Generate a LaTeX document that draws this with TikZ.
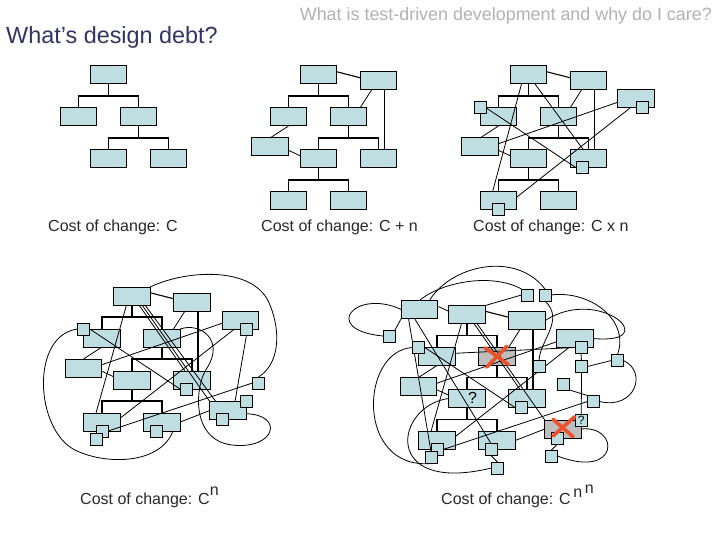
\documentclass[tikz,border=0pt]{standalone}
\usepackage{fontspec}
\setmainfont{Liberation Sans}
\usetikzlibrary{calc}
\definecolor{boxblue}{RGB}{190,222,226}
\definecolor{boxgrey}{RGB}{190,190,190}
\definecolor{titlenavy}{RGB}{51,51,102}
\definecolor{headgrey}{RGB}{178,178,178}
\definecolor{captext}{RGB}{40,40,40}
\definecolor{xred}{RGB}{236,80,45}
\pgfdeclarelayer{fg}
\pgfdeclarelayer{top}
\pgfsetlayers{main,fg,top}
\newcommand{\basenodes}[2]{%
 \node[bx] (#1T) at (0,0) {};
 \node[bx] (#1L2) at (-30,42) {};
 \node[#2] (#1R2) at (30,42) {};
 \node[bx] (#1L3) at (0,84) {};
 \node[bx] (#1R3) at (60,84) {};
}
\newcommand{\basetree}[1]{%
 \draw[trln] (#1T.south) -- ++(0,12);
 \draw[trln] (#1L2.north) -- ++(0,-12) -| (#1R2.north);
 \draw[trln] (#1R2.south) -- ++(0,12);
 \draw[trln] (#1L3.north) -- ++(0,-12) -| (#1R3.north);
}
\newcommand{\extnodes}[1]{%
 \node[bx] (#1R) at (60,6) {};
 \node[bx] (#1X) at (-48.5,72) {};
 \node[bx] (#1L4) at (-30,126) {};
 \node[bx] (#1R4) at (30,126) {};
}
\newcommand{\exttree}[1]{%
 \draw[trln] (#1L3.south) -- ++(0,12);
 \draw[trln] (#1L4.north) -- ++(0,-12) -| (#1R4.north);
 \draw[mdln] (#1T.10) -- (#1R.170);
 \draw[xln] ([xshift=-7pt]#1R.south) -- ([xshift=11.5pt]#1R2.north);
 \draw[trln] ([xshift=6pt]#1R.south) -- ([xshift=6pt]#1R3.north);
 \draw[xln] (#1L2.south) -- (#1X.north);
 \draw[xln] (#1X.-10) -- (#1L3.170);
}
\begin{document}
\begin{tikzpicture}[x=1pt,y=-1pt,
  bx/.style={draw=black,line width=1pt,fill=boxblue,minimum width=36.5pt,minimum height=18pt,inner sep=0pt,outer sep=0pt},
  gbx/.style={bx,fill=boxgrey},
  sq/.style={draw=black,line width=1pt,fill=boxblue,minimum width=12pt,minimum height=12pt,inner sep=0pt,outer sep=0pt},
  trln/.style={line width=1.4pt},
  xln/.style={line width=0.8pt},
  mdln/.style={line width=1.1pt},
  xx/.style={line width=3.6pt,color=xred,line cap=round},
  captxt/.style={font=\fontsize{16}{19}\selectfont,text=captext,inner sep=0pt,anchor=base west}]
\fill[white] (0,0) rectangle (720,540);
\useasboundingbox (0,0) rectangle (720,540);

\node[font=\fontsize{23.4}{28}\selectfont,text=titlenavy,inner sep=0pt,anchor=base west] (title) at (6,44) {What’s design debt?};
\node[font=\fontsize{17.9}{21}\selectfont,text=headgrey,inner sep=0pt,anchor=base east] (head) at (712,21) {What is test-driven development and why do I care?};

% ---------- panel 1
\begin{scope}[shift={(108.5,75)}]
 \basenodes{a}{bx}
 \basetree{a}
\end{scope}
\node[captxt] (capa) at (48,232) {Cost of change: C};

% ---------- panel 2
\begin{scope}[shift={(318.5,75)}]
 \basenodes{b}{bx}
 \extnodes{b}
 \basetree{b}
 \exttree{b}
\end{scope}
\node[captxt] (capb) at (261,232) {Cost of change: C + n};

% ---------- panel 3
\begin{scope}[shift={(528.5,75)}]
 \basenodes{c}{bx}
 \extnodes{c}
 \node[bx] (cFR) at (107.5,24) {};
 \begin{pgfonlayer}{fg}
  \node[sq] (cL2s) at (cL2.north west) {};
  \node[sq] (cR3s) at ([xshift=-6pt]cR3.south) {};
  \node[sq] (cL4s) at (cL4.south) {};
  \node[sq] (cFRs) at ([xshift=6pt]cFR.south) {};
 \end{pgfonlayer}
 \basetree{c}
 \exttree{c}
 \draw[xln] ([xshift=-7pt]cT.south) -- ([xshift=-6pt]cL4.north);
 \draw[xln] ([xshift=6.5pt]cT.south) -- ([xshift=-5pt]cR3.north);
 \draw[xln] (cL2s.east) -- (cR3s.west);
 \draw[xln] (cFR.-170) -- (cX.10);
 \draw[xln] ([xshift=-6pt]cFR.south) -- (cL4.12);
\end{scope}
\node[captxt] (capc) at (473,232) {Cost of change: C x n};

% ---------- panel 4
\begin{scope}[shift={(132,296)}]
 \basenodes{d}{bx}
 \extnodes{d}
 \node[bx] (dFR) at (108.5,24) {};
 \node[bx] (dBR) at (96,114.5) {};
 \begin{pgfonlayer}{fg}
  \node[sq] (dL2s) at (dL2.north west) {};
  \node[sq] (dR3s) at ([xshift=-6pt]dR3.south) {};
  \node[sq] (dL4s) at (dL4.south) {};
  \node[sq] (dL4t) at ([xshift=-6pt,yshift=-8pt]dL4.south) {};
  \node[sq] (dR4s) at ([xshift=-6pt]dR4.south) {};
  \node[sq] (dFRs) at ([xshift=6pt]dFR.south) {};
  \node[sq] (dFR2) at (126.5,87) {};
  \node[sq] (dBRa) at (dBR.north east) {};
  \node[sq] (dBRb) at ([xshift=-5.5pt]dBR.south) {};
 \end{pgfonlayer}
 \basetree{d}
 \exttree{d}
 \draw[xln] ([xshift=-5.5pt]dT.south) -- ([xshift=-6pt]dL4.north);
 \draw[xln] ([xshift=7pt]dT.south) -- ([xshift=-7pt]dR3.north);
 \draw[xln] ([xshift=10pt]dT.south) -- (dBR.north west);
 \draw[xln] ([xshift=13pt]dT.south) -- ([xshift=6pt]dBR.north west);
 \draw[xln] (dL2s.east) -- (dR3s.west);
 \draw[xln] (dFR.-170) -- (dX.10);
 \draw[xln] ([xshift=-6pt]dFR.south) -- (dL4.12);
 \draw[xln] (dFRs.south) -- ([xshift=7pt]dBR.north);
 \draw[xln] (dFR2.west) -- (dL4s.east);
 \draw[xln] (dR4.east) -- (dBR.west);
\end{scope}
\draw[xln] (dT.north east) .. controls (185,270) and (255,265) .. (270,305) .. controls (282,335) and (278,365) .. (dFR2.north);
\draw[xln] (dL2s.west) .. controls (30,335) and (35,430) .. (75,450) .. controls (105,465) and (160,465) .. ([xshift=11pt]dR4.south);
\draw[xln] (dR2.north east) .. controls (200,322) and (225,340) .. (207,368) .. controls (195,385) and (190,440) .. (232,445) .. controls (275,450) and (285,415) .. (dBR.-10);
\node[captxt] (capd) at (80,504) {Cost of change: C\raisebox{9pt}{n}};

% ---------- panel 5
\begin{scope}[shift={(467,314.5)}]
 \basenodes{e}{gbx}
 \extnodes{e}
 \node[bx] (eFR) at (108,24) {};
 \node[gbx] (eBR) at (96,114.5) {};
 \node[bx] (eA) at (-47.5,-5) {};
 \begin{pgfonlayer}{fg}
  \node[sq] (eL2s) at (eL2.north west) {};
  \node[sq] (eR3s) at ([xshift=-6pt]eR3.south) {};
  \node[sq] (eL4s) at (eL4.south) {};
  \node[sq] (eL4t) at ([xshift=-6pt,yshift=-8pt]eL4.south) {};
  \node[sq] (eR4s) at ([xshift=-6pt]eR4.south) {};
  \node[sq] (eKt) at (30.5,153.5) {};
  \node[sq] (eFRs) at ([xshift=6pt]eFR.south) {};
  \node[sq] (eFR2) at (126.5,87) {};
  \node[sq] (eBRa) at (eBR.north east) {};
  \node[sq] (eBRb) at ([xshift=-5.5pt]eBR.south) {};
  \node[sq] (eS1) at (60.5,-19.5) {};
  \node[sq] (eS2) at (78,-19.5) {};
  \node[sq] (eS3) at (-78,21.5) {};
  \node[sq] (eS5) at (72,52) {};
  \node[sq] (eS6) at (96.5,69.5) {};
  \node[sq] (eS7) at (114.5,52) {};
  \node[sq] (eS4) at (150.5,46) {};
  \node[sq] (eS8) at (84.5,141.5) {};
 \end{pgfonlayer}
 \basetree{e}
 \exttree{e}
 \draw[xln] (eA.10) -- (eT.170);
 \draw[xln] (eT.north east) -- (eS1.west);
 \draw[xln] ([xshift=-5.5pt]eT.south) -- ([xshift=-6pt]eL4.north);
 \draw[xln] ([xshift=7pt]eT.south) -- ([xshift=-7pt]eR3.north);
 \draw[xln] ([xshift=10pt]eT.south) -- (eBR.north west);
 \draw[xln] (eL2s.east) -- (eR3s.west);
 \draw[xln] (eFR.-170) -- (eX.10);
 \draw[xln] ([xshift=-6pt]eFR.south) -- (eL4.12);
 \draw[xln] (eFRs.south) -- (eS7.north);
 \draw[xln] (eS7.south) -- (eBRa.north);
 \draw[xln] (eFR2.west) -- (eL4s.east);
 \draw[xln] (eR4.east) -- (eBR.west);
 \draw[xln] ([xshift=-11pt]eA.south) -- (eL4t.north);
 \draw[xln] ([xshift=-5pt]eA.south) -- (eR4s.north);
 \draw[xln] (eS3.north east) -- (eA.south west);
 \draw[xln] (eS4.west) -- (eS7.east);
 \draw[xln] (eS6.south east) -- (eFR2.north west);
 \draw[xln] (eS8.north) -- (eBRb.south);
 \draw[xln] (eR4s.south) -- (eKt.north);
 \draw[xln] (eL2.10) -- (eFRs.west);
\end{scope}
\draw[xln] (eA.west) .. controls (355,288) and (320,330) .. (eS3.west);
\draw[xln] (eA.north) .. controls (440,283) and (490,272) .. (eS1.north west);
\draw[xln] ([xshift=10pt]eA.north) .. controls (450,266) and (515,250) .. (eS2.north);
\draw[xln] (eS2.east) .. controls (590,290) and (630,320) .. (eS4.north);
\draw[xln] (eR.east) .. controls (600,285) and (665,345) .. (eFR.east);
\draw[xln] (eS2.south) .. controls (565,320) and (540,340) .. (eS5.north);
\draw[xln] (eL2s.west) .. controls (360,350) and (355,470) .. (eL4t.south);
\draw[xln] (eL3.west) .. controls (395,405) and (380,495) .. (eKt.west);
\draw[xln] (eBR.east) .. controls (620,425) and (620,480) .. (eS8.east);
\draw[xln] (eS4.east) .. controls (648,372) and (635,410) .. (eFR2.east);
\begin{pgfonlayer}{top}
 \draw[xx] ($(eR2.center)+(-12,-8.7)$) -- ($(eR2.center)+(11.3,8)$);
 \draw[xx] ($(eR2.center)+(9.7,-10)$) -- ($(eR2.center)+(-10.3,10.7)$);
 \draw[xx] ($(eBR.center)+(-10,-9.7)$) -- ($(eBR.center)+(10,7.7)$);
 \draw[xx] ($(eBR.center)+(11.7,-12.3)$) -- ($(eBR.center)+(-10,7)$);
 \node[font=\fontsize{16}{18}\selectfont,inner sep=0pt] (q1) at ($(eL3.center)+(5.5,-1)$) {?};
 \node[font=\fontsize{12}{14}\selectfont,inner sep=0pt] (q2) at (eBRa.center) {?};
\end{pgfonlayer}
\node[captxt] (cape) at (441,504) {Cost of change: C\,\raisebox{7pt}{n}\,\raisebox{11pt}{n}};
\end{tikzpicture}
\end{document}
